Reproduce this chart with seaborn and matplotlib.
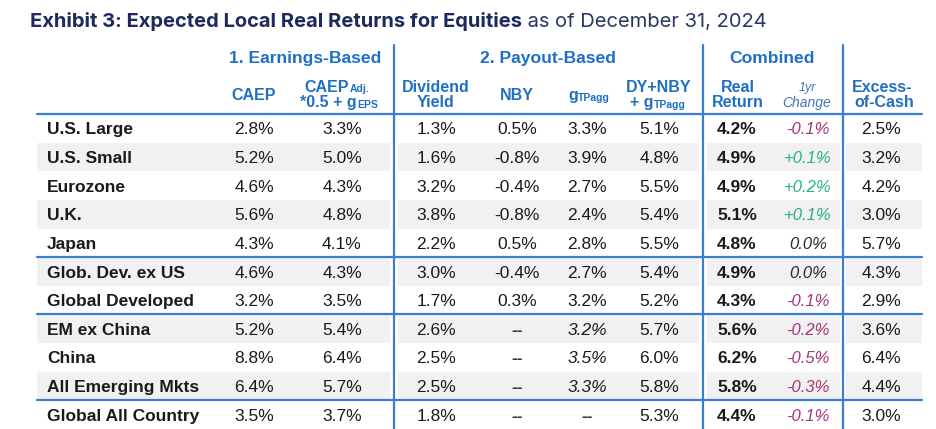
import matplotlib
matplotlib.use("Agg")
import matplotlib.pyplot as plt
import seaborn as sns

sns.set_theme(style="white")
plt.rcParams['font.family'] = ['Liberation Sans', 'DejaVu Sans']

# ---------------- data ----------------
regions = ["U.S. Large", "U.S. Small", "Eurozone", "U.K.", "Japan",
           "Glob. Dev. ex US", "Global Developed", "EM ex China", "China",
           "All Emerging Mkts", "Global All Country"]
caep = [2.8, 5.2, 4.6, 5.6, 4.3, 4.6, 3.2, 5.2, 8.8, 6.4, 3.5]
caep_adj = [3.3, 5.0, 4.3, 4.8, 4.1, 4.3, 3.5, 5.4, 6.4, 5.7, 3.7]
dividend_yield = [1.3, 1.6, 3.2, 3.8, 2.2, 3.0, 1.7, 2.6, 2.5, 2.5, 1.8]
nby = [0.5, -0.8, -0.4, -0.8, 0.5, -0.4, 0.3, None, None, None, None]
g_tpagg = [3.3, 3.9, 2.7, 2.4, 2.8, 2.7, 3.2, 3.2, 3.5, 3.3, None]
g_tpagg_italic = [False] * 7 + [True] * 3 + [False]
dy_nby_g = [5.1, 4.8, 5.5, 5.4, 5.5, 5.4, 5.2, 5.7, 6.0, 5.8, 5.3]
real_return = [4.2, 4.9, 4.9, 5.1, 4.8, 4.9, 4.3, 5.6, 6.2, 5.8, 4.4]
change_1yr = [-0.1, 0.1, 0.2, 0.1, 0.0, 0.0, -0.1, -0.2, -0.5, -0.3, -0.1]
excess_of_cash = [2.5, 3.2, 4.2, 3.0, 5.7, 4.3, 2.9, 3.6, 6.4, 4.4, 3.0]
group_breaks = [5, 7, 10]   # rows after which a rule is drawn

title_bold = "Exhibit 3: Expected Local Real Returns for Equities"
title_rest = " as of December 31, 2024"
group_titles = ["1. Earnings-Based", "2. Payout-Based", "Combined"]

# ---------------- styling ----------------
NAVY = "#1d2b5c"
BLUE = "#1f6fc5"
LINE = "#3a7fcf"
TXT = "#1a1a1a"
SHADE = "#f1f1f1"
NEG = "#a2367c"
POS = "#27b088"

fig = plt.figure(figsize=(9.36, 4.29), dpi=100)
ax = fig.add_axes([0, 0, 1, 1])
ax.set_xlim(0, 936)
ax.set_ylim(429, 0)
ax.axis("off")

top = 114.0
rh = (429 - top) / 11
x_left, x_right = 37, 922
vlines = [394, 703, 843]
col_x = [254, 342, 436, 517, 587, 659, 737, 808, 881]

# shading
seg = [(x_left, vlines[0] - 4), (vlines[0] + 4, vlines[1] - 4),
       (vlines[1] + 4, vlines[2] - 3), (vlines[2] + 3, x_right)]
for i in range(len(regions)):
    if i % 2 == 1:
        y0 = top + i * rh
        for a, b in seg:
            ax.fill_between([a, b], y0, y0 + rh, color=SHADE, lw=0, zorder=0)

# rules
ax.plot([x_left, x_right], [top, top], color=LINE, lw=1.6, zorder=2)
for g in group_breaks:
    yy = top + g * rh
    ax.plot([x_left, x_right], [yy, yy], color=LINE, lw=1.6, zorder=2)
for vx in vlines:
    ax.plot([vx, vx], [45, 429], color=LINE, lw=1.6, zorder=2)

# title
TF = ['Inter', 'Liberation Sans', 'DejaVu Sans']
t1 = ax.text(30, 27, title_bold, fontsize=14.5, fontweight="bold", color=NAVY,
             ha="left", va="baseline", family=TF)
fig.canvas.draw()
bb = t1.get_window_extent()
inv = ax.transData.inverted()
x_end = inv.transform((bb.x1, bb.y0))[0]
ax.text(x_end, 27, title_rest, fontsize=14.5, color="#2c3763",
        ha="left", va="baseline", family=TF)

# group headers
for gx, gt in zip([305, 548, 772], group_titles):
    ax.text(gx, 63, gt, fontsize=12.6, fontweight="bold", color=BLUE,
            ha="center", va="baseline")

HS = 11.5
SUB = 7.5
b1, b2, bm = 92, 107, 100
hk = dict(fontsize=HS, fontweight="bold", color=BLUE, va="baseline")
sk = dict(fontsize=SUB, fontweight="bold", color=BLUE, va="baseline")

ax.text(col_x[0], bm, "CAEP", ha="center", **hk)
ax.text(349, b1, "CAEP", ha="right", **hk)
ax.text(350, b1, "Adj.", ha="left", **sk)
ax.text(357, b2, "*0.5 + g", ha="right", **hk)
ax.text(357, b2 + 1, "EPS", ha="left", **sk)
ax.text(col_x[2], b1, "Dividend", ha="center", **hk)
ax.text(col_x[2], b2, "Yield", ha="center", **hk)
ax.text(col_x[3], bm, "NBY", ha="center", **hk)
ax.text(578, bm, "g", ha="right", **hk)
ax.text(578, bm + 1, "TPagg", ha="left", **sk)
ax.text(col_x[5], b1, "DY+NBY", ha="center", **hk)
ax.text(654, b2, "+ g", ha="right", **hk)
ax.text(654, b2 + 1, "TPagg", ha="left", **sk)
ax.text(738, b1, "Real", ha="center", **hk)
ax.text(738, b2, "Return", ha="center", **hk)
ax.text(807, b1 - 1, "1yr", ha="center", fontsize=9, style="italic",
        color="#3f74b8", va="baseline")
ax.text(807, b2, "Change", ha="center", fontsize=10, style="italic",
        color="#3f74b8", va="baseline")
ax.text(882, b1, "Excess-", ha="center", **hk)
ax.text(884, b2, "of-Cash", ha="center", **hk)


def cell(x, y, v, **kw):
    if v is None:
        ax.text(x, y, "--", fontsize=12.5, fontweight="bold", color="#333333",
                ha="center", va="baseline")
    else:
        ax.text(x, y, f"{v:.1f}%", fontsize=12.5, color=TXT, ha="center",
                va="baseline", **kw)


DS = 12.5
for i, name in enumerate(regions):
    yc = top + (i + 0.5) * rh
    yb = yc + 6
    ax.text(47, yb, name, fontsize=DS, fontweight="bold", color=TXT,
            ha="left", va="baseline")
    plain = [caep[i], caep_adj[i], dividend_yield[i], nby[i]]
    for cx, v in zip(col_x[:4], plain):
        cell(cx, yb, v)
    cell(col_x[4], yb, g_tpagg[i],
         style="italic" if g_tpagg_italic[i] else "normal")
    cell(col_x[5], yb, dy_nby_g[i])
    cell(col_x[6], yb, real_return[i], fontweight="bold")
    c = change_1yr[i]
    if c > 0:
        s, col = f"+{c:.1f}%", POS
    elif c < 0:
        s, col = f"{c:.1f}%", NEG
    else:
        s, col = f"{c:.1f}%", "#2a2a2a"
    ax.text(col_x[7], yb, s, fontsize=12, style="italic", color=col,
            ha="center", va="baseline")
    cell(col_x[8], yb, excess_of_cash[i])

fig.savefig("out.png", dpi=100)
